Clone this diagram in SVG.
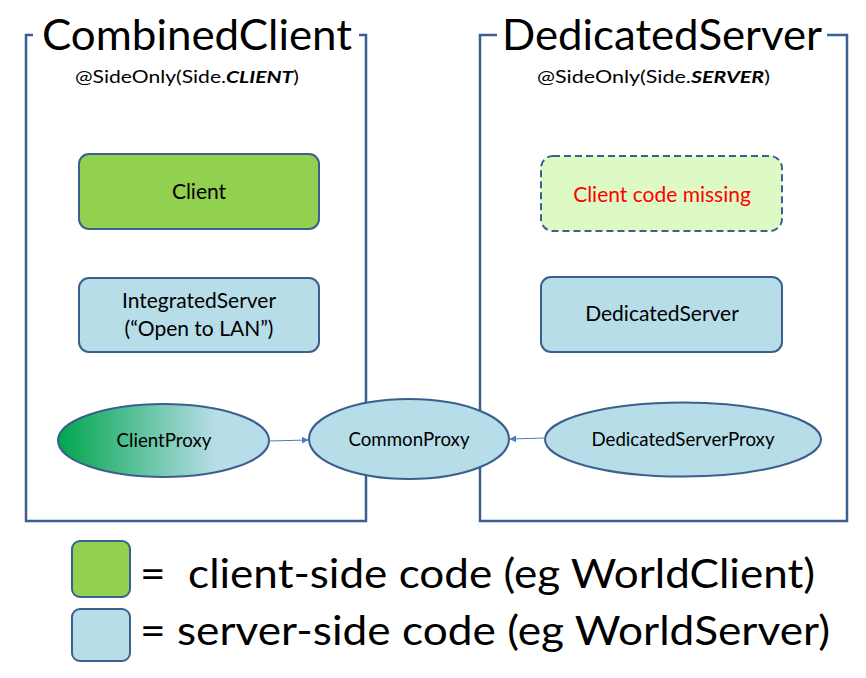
<svg xmlns="http://www.w3.org/2000/svg" width="866" height="678" viewBox="0 0 866 678">
<style>
text{font-family:Lato,"Open Sans","Liberation Sans",sans-serif;fill:#000}
.frame{fill:none;stroke:#3B5F8E;stroke-width:2.5}
.box{stroke:#3B5F8E;stroke-width:2}
.green{fill:#92D050}
.blue{fill:#B7DDE8}
.conn{stroke:#4A7EBB;stroke-width:1.2;fill:none}
.t16{font-size:18.7px}
.t18{font-size:21px}
</style>
<defs>
<linearGradient id="gp" x1="0" y1="0" x2="1" y2="0">
<stop offset="0" stop-color="#00A64C"/>
<stop offset="0.75" stop-color="#B7DDE8"/>
<stop offset="1" stop-color="#B7DDE8"/>
</linearGradient>
<marker id="ah" viewBox="0 0 10 10" refX="9" refY="5" markerWidth="7" markerHeight="7" orient="auto" markerUnits="userSpaceOnUse">
<path d="M0,0 L10,5 L0,10 z" fill="#4A7EBB"/>
</marker>
</defs>
<g id="frame-combined">
<path class="frame" d="M33,35 H26 V521 H366 V35 H359"/>
<text x="42" y="50" font-size="42" textLength="310" lengthAdjust="spacingAndGlyphs">CombinedClient</text>
<text x="75" y="83" font-size="17.5" textLength="224" lengthAdjust="spacingAndGlyphs">@SideOnly(Side.<tspan font-weight="bold" font-style="italic">CLIENT</tspan>)</text>
</g>
<g id="frame-dedicated">
<path class="frame" d="M497,35 H480 V521 H847 V35 H827"/>
<text x="502" y="50" font-size="42" textLength="320" lengthAdjust="spacingAndGlyphs">DedicatedServer</text>
<text x="537" y="83" font-size="17.5" textLength="233" lengthAdjust="spacingAndGlyphs">@SideOnly(Side.<tspan font-weight="bold" font-style="italic">SERVER</tspan>)</text>
</g>
<g id="client">
<rect class="box green" x="79" y="154" width="240" height="75" rx="10"/>
<text class="t18" x="199" y="199" text-anchor="middle">Client</text>
</g>
<g id="integrated-server">
<rect class="box blue" x="79" y="278" width="240" height="74" rx="10"/>
<text class="t18" x="199" y="308" text-anchor="middle">IntegratedServer</text>
<text class="t18" x="199" y="336" text-anchor="middle">(“Open to LAN”)</text>
</g>
<g id="client-code-missing">
<rect x="541" y="156" width="241" height="75" rx="12" fill="#DDFAC4" stroke="#3B5F8E" stroke-width="2" stroke-dasharray="7,4"/>
<text class="t18" x="662" y="202" text-anchor="middle" style="fill:#FF0000">Client code missing</text>
</g>
<g id="dedicated-server">
<rect class="box blue" x="541" y="277" width="241" height="75" rx="10"/>
<text class="t18" x="662" y="321" text-anchor="middle">DedicatedServer</text>
</g>
<g id="client-proxy">
<ellipse cx="163.5" cy="440.5" rx="105.5" ry="36.5" fill="url(#gp)" stroke="#3B5F8E" stroke-width="2"/>
<text class="t16" x="164" y="447" text-anchor="middle">ClientProxy</text>
</g>
<g id="common-proxy">
<ellipse class="blue" cx="409" cy="439" rx="100" ry="40" stroke="#3B5F8E" stroke-width="2"/>
<text class="t16" x="409" y="446" text-anchor="middle">CommonProxy</text>
</g>
<g id="dedicated-server-proxy">
<ellipse class="blue" cx="683" cy="439.5" rx="138" ry="37" stroke="#3B5F8E" stroke-width="2"/>
<text class="t16" x="683" y="446" text-anchor="middle">DedicatedServerProxy</text>
</g>
<g id="connectors">
<line class="conn" x1="269" y1="441" x2="308" y2="440" marker-end="url(#ah)"/>
<line class="conn" x1="545" y1="438" x2="510" y2="439" marker-end="url(#ah)"/>
</g>
<g id="legend">
<rect class="box green" x="72" y="541" width="58" height="56" rx="8"/>
<rect class="box blue" x="72" y="609" width="58" height="52" rx="8"/>
<text x="140" y="588" font-size="41" textLength="675" lengthAdjust="spacingAndGlyphs" xml:space="preserve">=  client-side code (eg WorldClient)</text>
<text x="140" y="645" font-size="41" textLength="690" lengthAdjust="spacingAndGlyphs">= server-side code (eg WorldServer)</text>
</g>
</svg>
